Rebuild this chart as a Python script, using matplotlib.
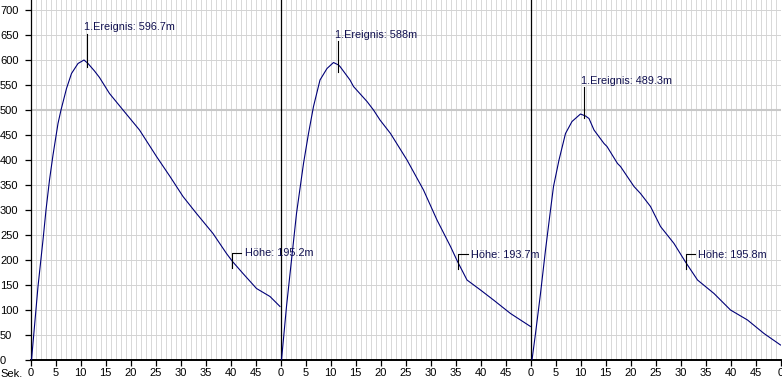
import matplotlib
matplotlib.use('Agg')  # headless
import matplotlib.pyplot as plt

# --- data (local seconds within each 50 s run) ---
seg1_t = [0.2, 1.5, 2.5, 3.1, 3.8, 4.5, 5.5, 6.1, 7.2, 8.2, 9.5, 10.7, 11.5, 12.8,
          13.8, 15.8, 18.5, 21.8, 25.2, 27.9, 30.5, 33.2, 36.5, 39.2, 40.4, 42.5,
          45.2, 47.9, 49.9]
seg1_v = [0, 147, 240, 300, 360, 410, 473, 500, 543, 573, 593, 600, 593, 578,
          565, 533, 500, 460, 407, 367, 327, 293, 253, 213, 197, 173,
          143, 127, 107]

seg2_t = [0.2, 1.2, 2.2, 3.2, 4.6, 5.6, 6.6, 7.9, 9.3, 10.6, 11.6, 11.9, 13.9,
          14.6, 17.3, 18.6, 19.9, 22.0, 25.3, 28.6, 31.3, 34.0, 35.4, 37.3,
          40.0, 42.6, 46.0, 50.0]
seg2_v = [0, 107, 200, 293, 393, 453, 507, 560, 583, 595, 590, 587, 560,
          547, 517, 500, 480, 453, 400, 340, 280, 227, 197, 160,
          140, 120, 93, 67]

seg3_t = [0.3, 1.0, 2.0, 3.0, 4.0, 4.6, 5.7, 7.0, 8.3, 10.0, 11.0, 11.7, 12.7,
          14.7, 15.3, 17.4, 18.0, 20.7, 22.0, 24.0, 26.0, 28.7, 31.0, 33.4,
          36.7, 40.0, 43.4, 46.7, 50.0]
seg3_v = [0, 53, 133, 220, 300, 347, 400, 453, 477, 492, 488, 483, 460,
          433, 427, 393, 387, 347, 333, 307, 267, 233, 196, 160,
          133, 100, 80, 53, 30]

segments = [(seg1_t, seg1_v), (seg2_t, seg2_v), (seg3_t, seg3_v)]

event_labels = ["1.Ereignis: 596.7m", "1.Ereignis: 588m", "1.Ereignis: 489.3m"]
event_t = [11.3, 11.5, 10.7]        # local time of the event marker
event_top = [653, 638, 547]         # top of the marker line
event_bottom = [587, 577, 484]      # bottom of the marker line

height_labels = ["Höhe: 195.2m", "Höhe: 193.7m", "Höhe: 195.8m"]
height_t = [40.3, 35.5, 31.0]
height_v = [200, 198, 197]

RUN = 50
NAVY = '#000078'
FONT = 'Liberation Sans'

fig = plt.figure(figsize=(7.82, 3.86), dpi=100)
ax = fig.add_axes([30.5 / 782, 26 / 386, 750 / 782, 360 / 386])
ax.set_xlim(0, 3 * RUN)
ax.set_ylim(0, 720)

# grid: 1 s vertical, 50 m horizontal
for s in range(1, 3 * RUN):
    if s % RUN:
        ax.axvline(s, color='#d9d9d9', lw=0.72, zorder=0)
for h in range(50, 701, 50):
    if h == 500:
        ax.axhline(h, color='#c8c8c8', lw=1.5, zorder=0)
    else:
        ax.axhline(h, color='#d4d4d4', lw=0.72, zorder=0)
for k in (1, 2):
    ax.axvline(k * RUN, color='black', lw=0.9, zorder=1)

for i, (ts, vs) in enumerate(segments):
    off = i * RUN
    ax.plot([t + off for t in ts], vs, color=NAVY, lw=0.8, zorder=3)

    # event marker
    et = event_t[i] + off
    ax.plot([et, et], [event_bottom[i], event_top[i]], color='black', lw=0.8, zorder=4)
    ax.text(et - 0.6, event_top[i] + 12, event_labels[i], fontsize=7.8, family=FONT,
            color='#101050', ha='left', va='center', zorder=5)

    # height marker
    ht = height_t[i] + off
    ax.plot([ht, ht, ht + 1.9], [height_v[i] - 15, height_v[i] + 15, height_v[i] + 15],
            color='black', lw=0.8, zorder=4)
    ax.text(ht + 2.6, height_v[i] + 13, height_labels[i], fontsize=7.8, family=FONT,
            color='#101050', ha='left', va='center', zorder=5)

# axes styling
for side in ('top', 'right'):
    ax.spines[side].set_visible(False)
ax.spines['left'].set_linewidth(0.9)
ax.spines['bottom'].set_linewidth(1.4)

xt = list(range(0, 3 * RUN + 1, 5))
ax.set_xticks(xt)
ax.set_xticklabels([str(t % RUN) for t in xt], fontsize=8, family=FONT)
yt = list(range(0, 701, 50))
ax.set_yticks(yt)
ax.set_yticklabels([str(v) for v in yt], fontsize=8, family=FONT, ha='left')
ax.tick_params(axis='x', length=4, width=0.9, pad=1.5)
ax.tick_params(axis='y', length=4, width=0.9, pad=18)
fig.text(0.5 / 782, 1 - 374 / 386, "Sek.", fontsize=8, family=FONT, ha='left', va='center')

fig.savefig('out.png', dpi=100)
